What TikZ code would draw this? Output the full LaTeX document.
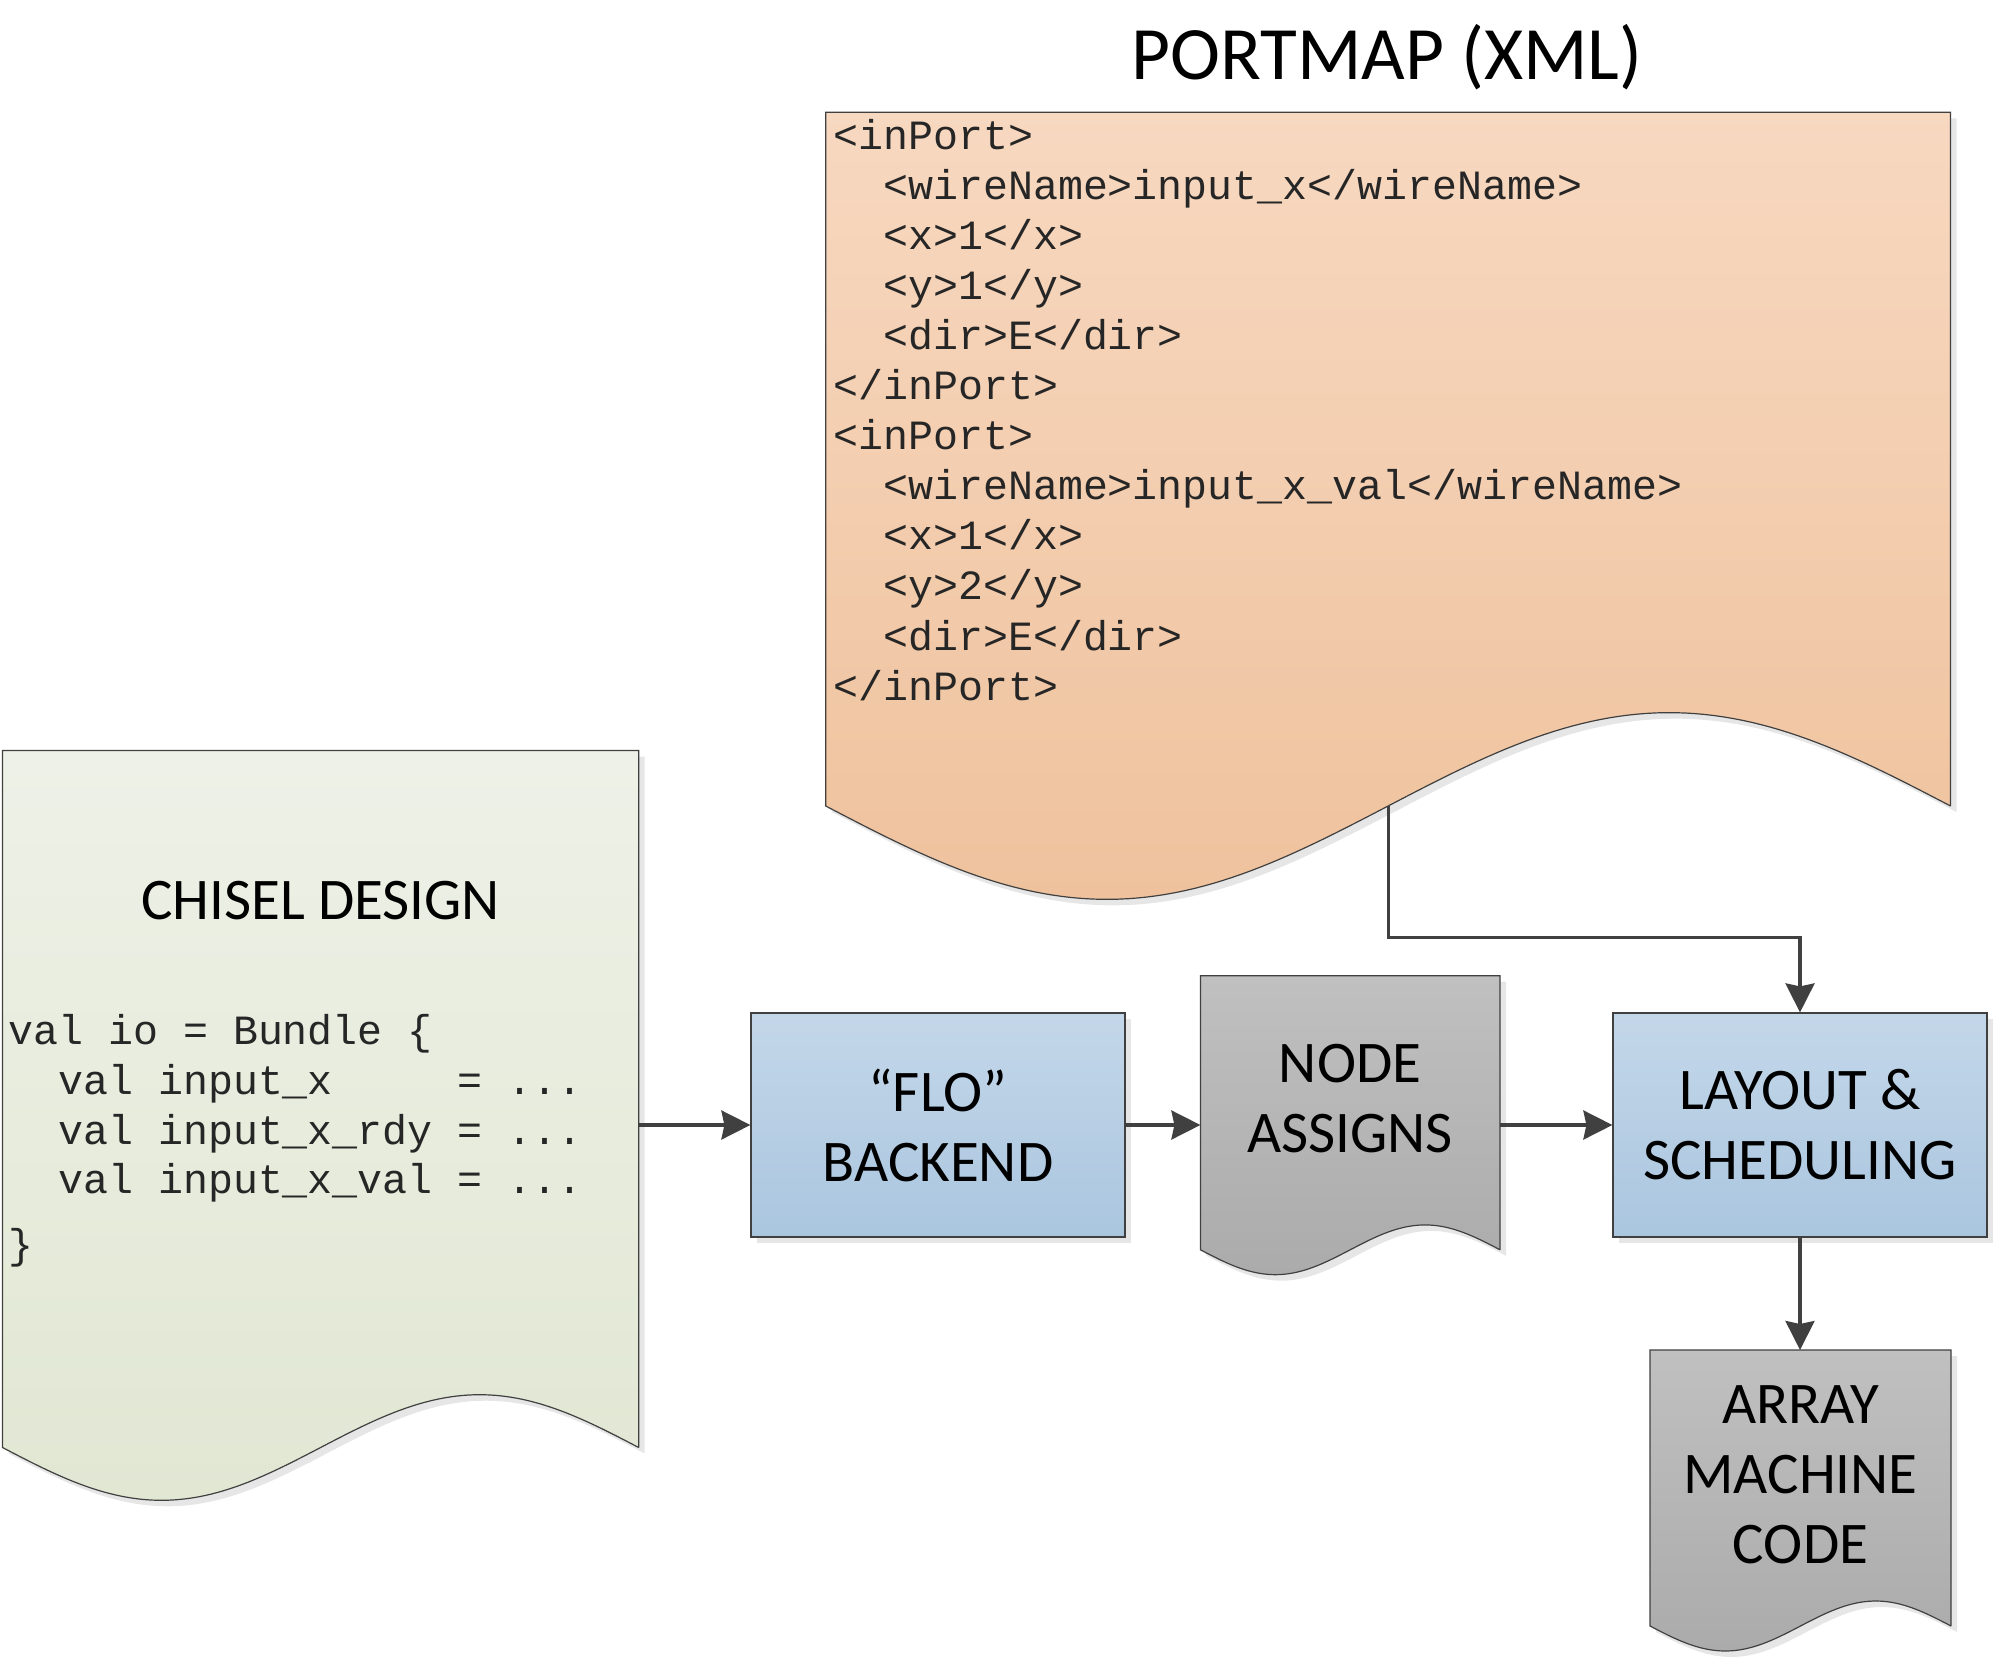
\documentclass[tikz,border=0pt]{standalone}
\usepackage{fontspec}
\setmainfont{Carlito}
\newfontfamily\codefont{Liberation Mono}
\usetikzlibrary{arrows.meta,calc,shadows}
\definecolor{linec}{HTML}{404040}
\definecolor{shadowc}{HTML}{E6E6E6}
\definecolor{greenT}{HTML}{EEF1E7}
\definecolor{greenB}{HTML}{E1E7D3}
\definecolor{orangeT}{HTML}{F7D8C0}
\definecolor{orangeB}{HTML}{EFC29D}
\definecolor{blueT}{HTML}{C4D7E9}
\definecolor{blueB}{HTML}{AAC6DF}
\definecolor{grayT}{HTML}{C0C0C0}
\definecolor{grayB}{HTML}{ABABAB}
\newcommand\docshape[6]{%
  \pgfmathsetmacro\dW{#4-#2}%
  \pgfmathsetmacro\dA{0.083*\dW}%
  \pgfmathsetmacro\dK{360/\dW}%
  \pgfmathsetmacro\dH{#5-#3}%
  \fill[shadowc,xshift=3pt,yshift=-3pt] (#2,#3) -- (#4,#3) -- (#4,#5) -- plot[domain=#4:#2,samples=120] (\x,{#5+\dA*sin(\dK*(\x-#2))}) -- cycle;%
  \draw[#6] (#2,#3) -- (#4,#3) -- (#4,#5) -- plot[domain=#4:#2,samples=120] (\x,{#5+\dA*sin(\dK*(\x-#2))}) -- cycle;%
  \node[inner sep=0pt,outer sep=0pt,minimum width=\dW*0.5pt,minimum height=\dH*0.5pt,anchor=north west] (#1) at (#2,#3) {};%
}
\begin{document}
\begin{tikzpicture}[x=0.5pt,y=-0.5pt,
  border/.style={draw=linec,line width=0.6pt},
  greendoc/.style={border,top color=greenT,bottom color=greenB},
  orangedoc/.style={border,top color=orangeT,bottom color=orangeB},
  graydoc/.style={border,top color=grayT,bottom color=grayB},
  procbox/.style={border,top color=blueT,bottom color=blueB,
    minimum width=187pt,minimum height=112pt,inner sep=0pt,align=center,
    font=\fontsize{29.5}{35}\selectfont,
    general shadow={fill=shadowc,shadow xshift=3pt,shadow yshift=-3pt}},
  label/.style={inner sep=0pt,align=center,font=\fontsize{29.5}{35}\selectfont},
  codeline/.style={inner sep=0pt,anchor=base west,font=\codefont\fontsize{20.8}{25}\selectfont,text=black!85},
  conn/.style={draw=linec,line width=1.6pt,-{Stealth[length=14.5pt,width=14.5pt,inset=1.5pt]}}]
\useasboundingbox (0,0) rectangle (1995,1657);

% documents
\docshape{xml}{825.7}{112.3}{1950.5}{806}{orangedoc}
\docshape{chisel}{2.5}{750.5}{638.7}{1447.5}{greendoc}
\docshape{na}{1200.4}{975.7}{1500}{1249.8}{graydoc}
\docshape{amc}{1650}{1350}{1951}{1626}{graydoc}

% process boxes
\node[procbox] (flo) at (938,1125) {“FLO”\\BACKEND};
\node[procbox] (lay) at (1800,1125) {LAYOUT \&\\SCHEDULING};

% titles and labels
\node[inner sep=0pt,anchor=base,font=\fontsize{37.7}{45}\selectfont] (title) at (1387,80) {PORTMAP (XML)};
\node[label,anchor=base] (chiseltitle) at (320.6,919.5) {CHISEL DESIGN};
\node[label] (natext) at (1350,1099) {NODE\\ASSIGNS};
\node[label] (amctext) at (1800.5,1474.5) {ARRAY\\MACHINE\\CODE};

% XML text
\node[codeline] (x1) at (833,150) {<inPort>};
\node[codeline] (x2) at (833,200) {\ \ <wireName>input\_x</wireName>};
\node[codeline] (x3) at (833,250) {\ \ <x>1</x>};
\node[codeline] (x4) at (833,300) {\ \ <y>1</y>};
\node[codeline] (x5) at (833,350) {\ \ <dir>E</dir>};
\node[codeline] (x6) at (833,400) {</inPort>};
\node[codeline] (x7) at (833,450) {<inPort>};
\node[codeline] (x8) at (833,500) {\ \ <wireName>input\_x\_val</wireName>};
\node[codeline] (x9) at (833,550) {\ \ <x>1</x>};
\node[codeline] (x10) at (833,600) {\ \ <y>2</y>};
\node[codeline] (x11) at (833,650) {\ \ <dir>E</dir>};
\node[codeline] (x12) at (833,700) {</inPort>};

% Chisel code
\node[codeline] (c1) at (8,1044) {val io = Bundle \{};
\node[codeline] (c2) at (8,1094) {\ \ val input\_x\ \ \ \ \ = ...};
\node[codeline] (c3) at (8,1144) {\ \ val input\_x\_rdy = ...};
\node[codeline] (c4) at (8,1193.5) {\ \ val input\_x\_val = ...};
\node[codeline] (c5) at (8,1258) {\}};

% connectors
\coordinate (bendy) at (0,937.6);
\draw[conn] (chisel.east |- flo.west) -- (flo.west);
\draw[conn] (flo.east) -- (na.west |- flo.east);
\draw[conn] (na.east |- lay.west) -- (lay.west);
\draw[conn] (xml.south) -- (xml.south |- bendy) -| (lay.north);
\draw[conn] (lay.south) -- (lay.south |- amc.north);
\end{tikzpicture}
\end{document}
